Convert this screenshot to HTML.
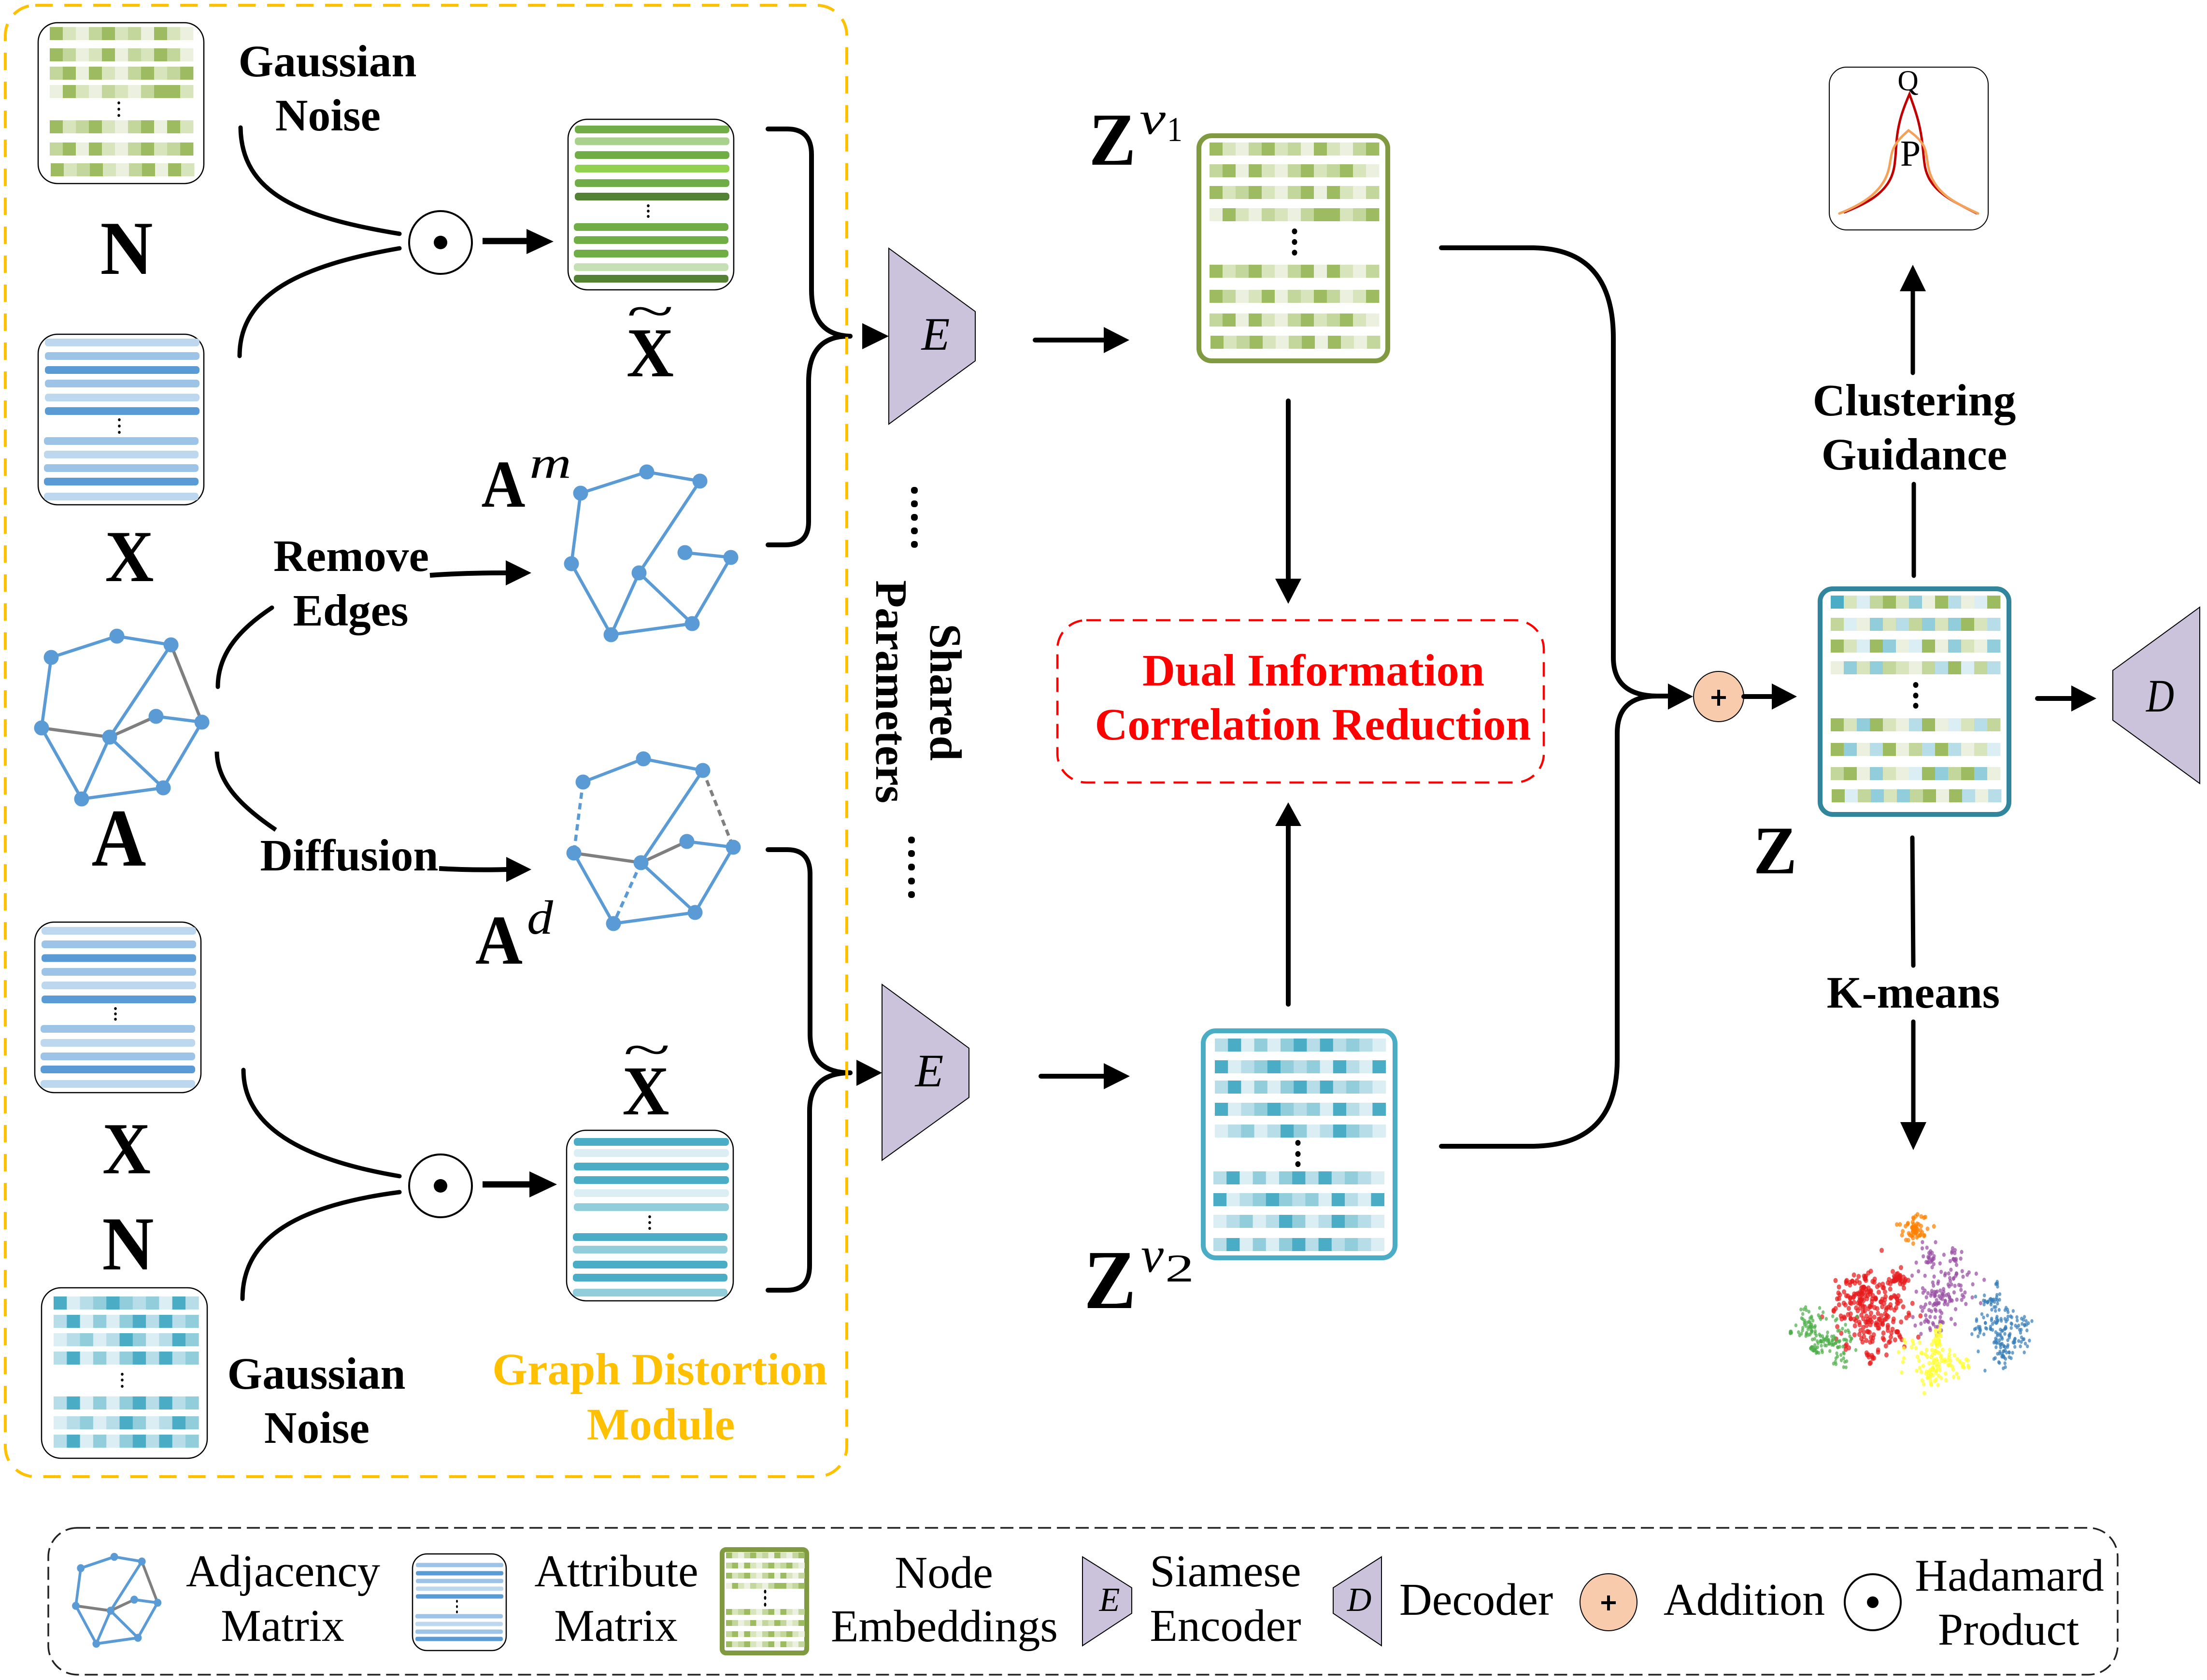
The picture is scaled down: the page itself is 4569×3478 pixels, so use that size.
<!DOCTYPE html>
<html>
<head>
<meta charset="utf-8">
<style>
html,body{margin:0;padding:0;background:#fff;width:4569px;height:3478px;overflow:hidden}
svg{display:block}
text{font-family:"Liberation Serif",serif;fill:#000}
.b{font-weight:bold;font-size:93.5px;text-anchor:middle}
.r{font-size:94px;text-anchor:middle}
.i{font-style:italic}
.c{fill:none;stroke:#000;stroke-width:10;stroke-linecap:round}
.t{fill:none;stroke:#000;stroke-width:9}
.m{fill:#fff;stroke:#000;stroke-width:2.5}
.tr{fill:#CBC3DB;stroke:#000;stroke-width:2}
</style>
</head>
<body>
<svg xmlns="http://www.w3.org/2000/svg" width="4569" height="3478" viewBox="0 0 4569 3478">
<rect width="4569" height="3478" fill="#fff"/>

<!-- matrix frames -->
<rect class="m" x="79" y="47" width="343" height="333" rx="40"/>
<rect class="m" x="79" y="692" width="343" height="353" rx="40"/>
<rect class="m" x="1176" y="247" width="343" height="353" rx="40"/>
<rect class="m" x="72" y="1909" width="344" height="353" rx="40"/>
<rect class="m" x="1173" y="2340" width="345" height="353" rx="40"/>
<rect class="m" x="86" y="2666" width="343" height="353" rx="40"/>
<rect x="2482" y="281" width="391" height="466" rx="26" fill="#fff" stroke="#7F9A41" stroke-width="10"/>
<rect x="2491" y="2134" width="397" height="470" rx="26" fill="#fff" stroke="#4BACC6" stroke-width="10"/>
<rect x="3768" y="1219" width="391" height="467" rx="26" fill="#fff" stroke="#31859C" stroke-width="10"/>
<rect class="m" x="854" y="3217" width="194" height="200" rx="30"/>
<rect x="1495" y="3208" width="175" height="214" rx="8" fill="#fff" stroke="#7F9A41" stroke-width="10"/>
<g id="shapes"></g>

<!-- graphs -->
<g id="graphs"></g>

<!-- top distort connectors -->
<path class="t" stroke-linecap="round" d="M498 264C500 400 620 450 827 484"/>
<path class="t" stroke-linecap="round" d="M496 737C496 610 620 550 827 514"/>
<circle cx="912" cy="502" r="65" fill="#fff" stroke="#000" stroke-width="4"/>
<circle cx="912" cy="502" r="14"/>
<path class="c" style="stroke-linecap:butt;stroke-width:13" d="M999 499H1095"/>
<polygon points="1090,474 1146,500 1090,526"/>

<path class="t" stroke-linecap="round" d="M504 2215C504 2330 620 2400 827 2435"/>
<path class="t" stroke-linecap="round" d="M502 2689C502 2560 620 2495 827 2468"/>
<circle cx="912" cy="2455" r="65" fill="#fff" stroke="#000" stroke-width="4"/>
<circle cx="912" cy="2455" r="14"/>
<path class="c" style="stroke-linecap:butt;stroke-width:13" d="M999 2452H1100"/>
<polygon points="1096,2425 1153,2452 1096,2479"/>

<!-- A curves + arrows -->
<path class="t" stroke-linecap="round" d="M451 1422C451 1350 500 1300 563 1258"/>
<path class="t" stroke-linecap="butt" d="M449 1556C449 1620 500 1670 571 1718"/>
<path class="c" style="stroke-linecap:butt" d="M890 1191Q960 1186 1050 1186"/>
<polygon points="1047,1160 1100,1186 1047,1212"/>
<path class="c" style="stroke-linecap:butt" d="M909 1798Q980 1802 1050 1800"/>
<polygon points="1048,1774 1100,1800 1048,1826"/>

<!-- brackets -->
<path class="c" d="M1590 267H1630Q1680 267 1680 320V600Q1680 694 1760 696"/>
<path class="c" d="M1590 1128H1625Q1674 1128 1674 1080V790Q1674 694 1760 696"/>
<polygon points="1785,669 1840,696 1785,723"/>
<path class="c" d="M1590 1759H1630Q1677 1759 1677 1810V2140Q1677 2221 1760 2221"/>
<path class="c" d="M1590 2671H1630Q1676 2671 1676 2620V2300Q1676 2221 1760 2221"/>
<polygon points="1773,2194 1826,2221 1773,2248"/>

<!-- yellow dashed module -->
<rect x="11" y="11" width="1742" height="3046" rx="62" fill="none" stroke="#FFC000" stroke-width="6" stroke-dasharray="36 24"/>

<!-- encoders -->
<polygon class="tr" points="1840,514 2019,645 2019,747 1840,878"/>
<polygon class="tr" points="1826,2038 2006,2170 2006,2272 1826,2402"/>
<polygon class="tr" points="4554,1257 4374,1388 4374,1491 4554,1622"/>
<text class="i" x="1937" y="724" font-size="96" text-anchor="middle">E</text>
<text class="i" x="1924" y="2249" font-size="96" text-anchor="middle">E</text>
<text class="i" x="4472" y="1473" font-size="96" text-anchor="middle" textLength="58" lengthAdjust="spacingAndGlyphs">D</text>

<!-- middle arrows -->
<path class="c" d="M2143 704H2290"/><polygon points="2285,677 2338,704 2285,731"/>
<path class="c" d="M2155 2228H2290"/><polygon points="2285,2201 2339,2228 2285,2255"/>
<path class="c" d="M2667 830V1200"/><polygon points="2640,1198 2694,1198 2667,1250"/>
<path class="c" d="M2667 2079V1705"/><polygon points="2640,1710 2694,1710 2667,1661"/>

<!-- dots -->
<g>
<rect x="1886" y="1008" width="14" height="14" rx="6"/><rect x="1886" y="1036" width="14" height="14" rx="6"/><rect x="1886" y="1064" width="14" height="14" rx="6"/><rect x="1886" y="1092" width="14" height="14" rx="6"/><rect x="1886" y="1120" width="14" height="14" rx="6"/>
<rect x="1880" y="1732" width="14" height="14" rx="6"/><rect x="1880" y="1760" width="14" height="14" rx="6"/><rect x="1880" y="1788" width="14" height="14" rx="6"/><rect x="1880" y="1817" width="14" height="14" rx="6"/><rect x="1880" y="1845" width="14" height="14" rx="6"/>
</g>

<!-- big connectors -->
<path class="c" d="M2984 513H3170Q3340 513 3340 700V1361Q3340 1440 3430 1441H3460"/>
<path class="c" d="M2984 2373H3170Q3348 2373 3348 2194V1518Q3348 1441 3430 1441"/>
<polygon points="3453,1415 3505,1442 3453,1469"/>
<ellipse cx="3558" cy="1442" rx="52" ry="52" fill="#F8CBAD" stroke="#000" stroke-width="2"/>
<path d="M3543 1444H3573M3558 1428V1461" stroke="#000" stroke-width="6" fill="none"/>
<path class="c" d="M3610 1442H3672"/><polygon points="3668,1415 3720,1442 3668,1469"/>
<path class="c" d="M4218 1446H4292"/><polygon points="4288,1419 4340,1446 4288,1473"/>

<!-- right verticals -->
<path class="c" style="stroke-width:9" d="M3962 1192V1002"/>
<path class="c" style="stroke-width:9" d="M3960 772V600"/><polygon points="3933,603 3987,603 3960,548"/>
<path class="c" style="stroke-width:9" d="M3959 1734L3961 1999"/>
<path class="c" style="stroke-width:9" d="M3961 2115V2326"/><polygon points="3934,2323 3988,2323 3961,2381"/>

<!-- QP box -->
<rect x="3787" y="139" width="329" height="337" rx="36" fill="#fff" stroke="#000" stroke-width="2"/>
<path d="M3817 440C3860 423 3890 407 3908 380C3925 355 3923 330 3927 285C3931 250 3940 225 3953 195C3966 230 3976 260 3980 300C3984 340 3984 352 3995 372C4015 405 4050 420 4093 442" fill="none" stroke="#C00000" stroke-width="5"/>
<path d="M3808 442C3850 425 3885 405 3903 370C3915 345 3912 325 3920 307C3928 290 3940 280 3951 270C3962 278 3975 288 3983 303C3992 325 3988 345 4000 370C4020 410 4060 425 4095 442" fill="none" stroke="#F4A259" stroke-width="5" stroke-linecap="round"/>
<text x="3950" y="187" font-size="60" text-anchor="middle">Q</text>
<text x="3955" y="343" font-size="76" text-anchor="middle">P</text>

<!-- red box -->
<rect x="2189" y="1284" width="1007" height="336" rx="60" fill="none" stroke="#FF0000" stroke-width="4.5" stroke-dasharray="30 18"/>
<text class="b" x="2719" y="1419" style="fill:#FF0000" textLength="708" lengthAdjust="spacingAndGlyphs">Dual Information</text>
<text class="b" x="2718" y="1531" style="fill:#FF0000" textLength="903" lengthAdjust="spacingAndGlyphs">Correlation Reduction</text>

<!-- left labels -->
<text class="b" x="678" y="158">Gaussian</text>
<text class="b" x="679" y="270">Noise</text>
<text class="b" x="655" y="2875">Gaussian</text>
<text class="b" x="656" y="2987">Noise</text>
<text class="b" x="1366" y="2866" style="fill:#FFC000">Graph Distortion</text>
<text class="b" x="1368" y="2980" style="fill:#FFC000">Module</text>
<text class="b" x="727" y="1182">Remove</text>
<text class="b" x="726" y="1295">Edges</text>
<text class="b" x="723" y="1802">Diffusion</text>
<text class="b" x="3963" y="860">Clustering</text>
<text class="b" x="3963" y="972">Guidance</text>
<text class="b" x="3961" y="2086">K-means</text>

<text class="b" transform="translate(1926 1433) rotate(90)">Shared</text>
<text class="b" transform="translate(1814 1432) rotate(90)">Parameters</text>

<!-- math labels -->
<text class="b" style="font-size:158px" x="262" y="567" textLength="109" lengthAdjust="spacingAndGlyphs">N</text>
<text class="b" style="font-size:152px" x="268" y="1203" textLength="101" lengthAdjust="spacingAndGlyphs">X</text>
<text class="b" style="font-size:170px" x="246" y="1792" textLength="113" lengthAdjust="spacingAndGlyphs">A</text>
<text class="b" style="font-size:152px" x="262" y="2429" textLength="100" lengthAdjust="spacingAndGlyphs">X</text>
<text class="b" style="font-size:158px" x="265" y="2628" textLength="107" lengthAdjust="spacingAndGlyphs">N</text>

<text class="b" style="font-size:145px" x="1346" y="779" textLength="98" lengthAdjust="spacingAndGlyphs">X</text>
<text transform="translate(1346 679) scale(1.2 0.7)" font-size="150" text-anchor="middle">~</text>
<text class="b" style="font-size:145px" x="1337" y="2307" textLength="97" lengthAdjust="spacingAndGlyphs">X</text>
<text transform="translate(1339 2208) scale(1.2 0.7)" font-size="150" text-anchor="middle">~</text>

<text class="b" style="font-size:139px" x="1042" y="1049" textLength="91" lengthAdjust="spacingAndGlyphs">A</text>
<text class="i" x="1096" y="989" font-size="92" textLength="87" lengthAdjust="spacingAndGlyphs">m</text>
<text class="b" style="font-size:145px" x="1033" y="1995" textLength="98" lengthAdjust="spacingAndGlyphs">A</text>
<text class="i" x="1091" y="1933" font-size="100" textLength="54" lengthAdjust="spacingAndGlyphs">d</text>

<text class="b" style="font-size:155px" x="2303" y="341" textLength="97" lengthAdjust="spacingAndGlyphs">Z</text>
<text class="i" x="2359" y="277" font-size="95" textLength="54" lengthAdjust="spacingAndGlyphs">v</text>
<text x="2416" y="292" font-size="72" textLength="32" lengthAdjust="spacingAndGlyphs">1</text>
<text class="b" style="font-size:174px" x="2298" y="2708" textLength="108" lengthAdjust="spacingAndGlyphs">Z</text>
<text class="i" x="2362" y="2633" font-size="105" textLength="47" lengthAdjust="spacingAndGlyphs">v</text>
<text x="2412" y="2653" font-size="82" textLength="60" lengthAdjust="spacingAndGlyphs">2</text>
<text class="b" style="font-size:141px" x="3675" y="1808" textLength="90" lengthAdjust="spacingAndGlyphs">Z</text>

<!-- legend -->
<rect x="100" y="3163" width="4284" height="304" rx="60" fill="none" stroke="#222" stroke-width="3.5" stroke-dasharray="27 12"/>
<text class="r" x="586" y="3284">Adjacency</text>
<text class="r" x="585" y="3397">Matrix</text>
<text class="r" x="1276" y="3284">Attribute</text>
<text class="r" x="1275" y="3397">Matrix</text>
<text class="r" x="1954" y="3287">Node</text>
<text class="r" x="1955" y="3398">Embeddings</text>
<polygon class="tr" points="2241,3223 2343,3287 2343,3340 2241,3407"/>
<text class="i" x="2297" y="3335" font-size="70" text-anchor="middle">E</text>
<text class="r" x="2537" y="3284">Siamese</text>
<text class="r" x="2537" y="3397">Encoder</text>
<polygon class="tr" points="2860,3223 2760,3287 2760,3340 2860,3407"/>
<text class="i" x="2814" y="3335" font-size="70" text-anchor="middle">D</text>
<text class="r" x="3056" y="3343">Decoder</text>
<circle cx="3330" cy="3317" r="59" fill="#F8CBAD" stroke="#000" stroke-width="2"/>
<path d="M3315 3318H3345M3330 3303V3334" stroke="#000" stroke-width="6" fill="none"/>
<text class="r" x="3611" y="3343">Addition</text>
<circle cx="3877" cy="3317" r="58" fill="#fff" stroke="#000" stroke-width="4"/>
<circle cx="3877" cy="3317" r="12"/>
<text class="r" x="4160" y="3293">Hadamard</text>
<text class="r" x="4158" y="3405">Product</text>

<g id="scatter"></g>
</svg>
<script>
var NS='http://www.w3.org/2000/svg';
function el(p,n,a){var e=document.createElementNS(NS,n);for(var k in a)e.setAttribute(k,a[k]);p.appendChild(e);return e;}
var S=document.getElementById('shapes');
var P={a:'#9DBB61',b:'#C3D69B',c:'#D7E4BC',d:'#EBF1DE',A:'#4BACC6',B:'#92CDDC',C:'#B7DDE8',D:'#DBEEF3'};
function rows(x,w,h,rs){rs.forEach(function(r){var px=x+(r[2]||0);for(var i=0;i<r[1].length;i++){el(S,'rect',{x:px+i*w,y:r[0],width:w+0.4,height:h,fill:P[r[1][i]]});}});}
function bars(list,h){list.forEach(function(b){el(S,'rect',{x:b[0],y:b[2]-h/2,width:b[1]-b[0],height:h,rx:h*0.4,fill:b[3]});});}
function dots(x,ys,rx,ry){ys.forEach(function(y){el(S,'ellipse',{cx:x,cy:y,rx:rx,ry:ry,fill:'#000'});});}
var L='#BDD7EE',M='#9DC3E6',H='#5B9BD5';
// N top
rows(103,27,27,[[56,'acdbacbdacd'],[100,'abdcadbcabd'],[138,'badacdbacba'],[176,'dacdbcdbaac'],[249,'acbacdbadac'],[295,'badacdbacba'],[338,'acbacdbadac',2]]);
dots(246,[213,226,239],2.8,3);
// X top
[[709,L],[737,M],[766,H],[794,M],[823,L],[851,H]].forEach(function(r){bars([[93,413,r[0],r[1]]],16);});
[[913,M],[941,L],[969,M],[997,H],[1028,L]].forEach(function(r){bars([[91,411,r[0],r[1]]],16);});
dots(247,[869,882,895],2.8,3);
// X tilde green
[[268,'#70AD47'],[292.5,'#A9D18E'],[321,'#70AD47'],[349,'#92D050'],[379,'#70AD47'],[407,'#548235']].forEach(function(r){bars([[1190,1510,r[0],r[1]]],16);});
[[470,'#70AD47'],[497,'#70AD47'],[525,'#70AD47'],[553,'#C5E0B4'],[577,'#548235']].forEach(function(r){bars([[1188,1508,r[0],r[1]]],16);});
dots(1342,[426,437,448],2.8,3);
// X lower
[[1927,L],[1955,M],[1983.5,H],[2012,M],[2040,L],[2069,H]].forEach(function(r){bars([[86,406,r[0],r[1]]],16);});
[[2130,M],[2159,L],[2187,M],[2214,H],[2244,L]].forEach(function(r){bars([[84,404,r[0],r[1]]],16);});
dots(239,[2088,2099,2110],2.8,3);
// X tilde teal
[[2364,'#4BACC6'],[2387,'#DAEEF3'],[2415,'#4BACC6'],[2443,'#4BACC6'],[2470,'#DAEEF3'],[2499,'#92CDDC']].forEach(function(r){bars([[1188,1509,r[0],r[1]]],16);});
[[2561,'#4BACC6'],[2587,'#92CDDC'],[2618,'#4BACC6'],[2645,'#4BACC6'],[2676,'#92CDDC']].forEach(function(r){bars([[1186,1506,r[0],r[1]]],16);});
dots(1345,[2519,2531,2543],2.8,3);
// N lower
rows(111,27.3,27,[[2684,'ADCBABCBDAC'],[2722,'CADBDBACACB'],[2760,'DCBDCABDCAB'],[2798,'CADBDBACACB'],[2891,'CADBDBACACB'],[2932,'DCBDCABDCAB'],[2970,'CADBDBACACB']]);
dots(253,[2845,2857,2870],2.8,3);
// Z v1
var g1='acdbacbdacdba',g2='badacdbacbacd',g3='acbacdbadacdb',g4='dacdbcdbaacba',g6='abdcadbcabdca';
rows(2504,27,27,[[295,g1],[340,g2],[385,g3],[431,g4],[548,g3],[600,g6],[649,g2],[695,g3,2]]);
dots(2680,[479,501,523],5.5,6);
// Z v2
var t1='CADBDBACACBCD',t2='ADCBABCBDACDA',t5='DCBDCABDCABCD';
rows(2515,27.2,27,[[2150,t1],[2195,t2],[2237,t1],[2283,t2],[2328,t5],[2425,t1,-3],[2470,t2,-3],[2515,t5,-3],[2563,t1,-3]]);
dots(2687,[2366,2389,2410],5.5,6);
// Z main
rows(3790,27,27,[[1233,'AcDbacBdaCdDa'],[1279,'bDdBcCbBcBacC'],[1324,'acDaBdDadBcdB'],[1369,'dBcBbcdbCaDbC'],[1487,'acBacdCadDcCb'],[1538,'aBdCadbCaCdcD'],[1588,'badBcdDaBbaBd'],[1634,'aDbBcBbadaCdC',2]]);
dots(3966,[1418,1440,1461],5.5,6);
// legend attr
[[3240,M],[3257,H],[3273,M],[3289,L],[3305,H]].forEach(function(r){bars([[861,1042,r[0],r[1]]],9);});
[[3346,M],[3362,L],[3378,M],[3393,H]].forEach(function(r){bars([[860,1041,r[0],r[1]]],9);});
dots(946,[3315,3326,3337],2,3);
// legend emb
rows(1503,12.5,12,[[3214,g1],[3235,g2],[3256,g3],[3277,g4],[3331,g3],[3354,g6],[3377,g2],[3398,g3]]);
dots(1584,[3295,3308,3322],2.5,4);

// graphs
var G=document.getElementById('graphs');
function graph(nodes,edges,tf,sw){
 var g=el(G,'g',tf?{transform:tf}:{});
 edges.forEach(function(e){var a=nodes[e[0]],b=nodes[e[1]];var o={x1:a[0],y1:a[1],x2:b[0],y2:b[1],stroke:e[2]==1||e[2]==3?'#7F7F7F':'#5B9BD5','stroke-width':sw||6.5};if(e[2]>=2)o['stroke-dasharray']='13 9';el(g,'line',o);});
 nodes.forEach(function(n){el(g,'ellipse',{cx:n[0],cy:n[1],rx:15.5,ry:15.5,fill:'#5B9BD5'});});
}
var An=[[106,1361],[242,1317],[354,1335],[418,1495],[323,1483],[86,1507],[227,1526],[338,1631],[169,1654]];
var Ae=[[0,1],[1,2],[2,6],[4,3],[3,7],[7,8],[8,5],[5,0],[6,8],[6,7],[2,3,1],[5,6,1],[6,4,1]];
graph(An,Ae);
graph(An,Ae,'translate(113.14 2519.7) scale(0.51 0.534)',11);
graph([[1202,1021],[1339,977],[1449,996],[1323,1186],[1183,1167],[1265,1314],[1433,1291],[1513,1154],[1418,1144]],
[[0,1],[1,2],[2,3],[0,4],[4,5],[5,6],[6,7],[7,8],[3,5],[3,6]]);
graph([[1207,1619],[1332,1571],[1455,1595],[1518,1754],[1422,1742],[1188,1766],[1327,1786],[1439,1889],[1270,1912]],
[[0,1],[1,2],[2,6],[0,5,2],[2,3,3],[5,6,1],[6,4,1],[4,3],[3,7],[7,8],[8,5],[6,8,2],[6,7]]);

// scatter
var seed=12345;function rnd(){seed=(seed*16807)%2147483647;return seed/2147483647;}
function gs(){return Math.sqrt(-2*Math.log(rnd()+1e-9))*Math.cos(6.2832*rnd());}
var SC=document.getElementById('scatter');
var CL=[
['#FF7F00',[[3964,2547,14,13,55],[3974,2519,5,2,4]],4],
['#984EA3',[[4025,2680,30,35,110],[3995,2600,8,10,20],[4045,2600,12,8,14],[4000,2735,14,16,22]],3.6],
['#E41A1C',[[3867,2709,40,36,170],[3857,2688,12,14,30],[3929,2649,14,8,30],[3837,2656,8,6,10],[3862,2645,4,3,6],[3908,2765,25,16,25],[3872,2810,5,6,10]],4.5],
['#4DAF4A',[[3740,2751,12,10,35],[3778,2779,14,10,50],[3765,2726,25,12,20],[3806,2817,12,10,15],[3760,2796,8,5,15],[3707,2758,2,3,6],[3816,2768,14,15,20]],3.2],
['#FFFF33',[[4010,2772,6,15,30],[4010,2814,18,16,50],[4000,2849,12,14,30],[3949,2796,20,20,12],[4061,2821,12,18,12]],3.8],
['#377EB8',[[4122,2691,12,6,25],[4143,2733,22,15,50],[4158,2772,22,18,60],[4143,2810,12,12,25],[4097,2758,8,8,15],[4194,2737,6,8,8],[4133,2656,2,4,5]],3.2]];
CL.forEach(function(c){c[1].forEach(function(s){for(var i=0;i<s[4];i++){el(SC,'ellipse',{cx:(s[0]+gs()*s[2]).toFixed(1),cy:(s[1]+gs()*s[3]).toFixed(1),rx:c[2],ry:c[2]+0.8,fill:c[0],opacity:0.72});}});});
</script>
</body>
</html>
